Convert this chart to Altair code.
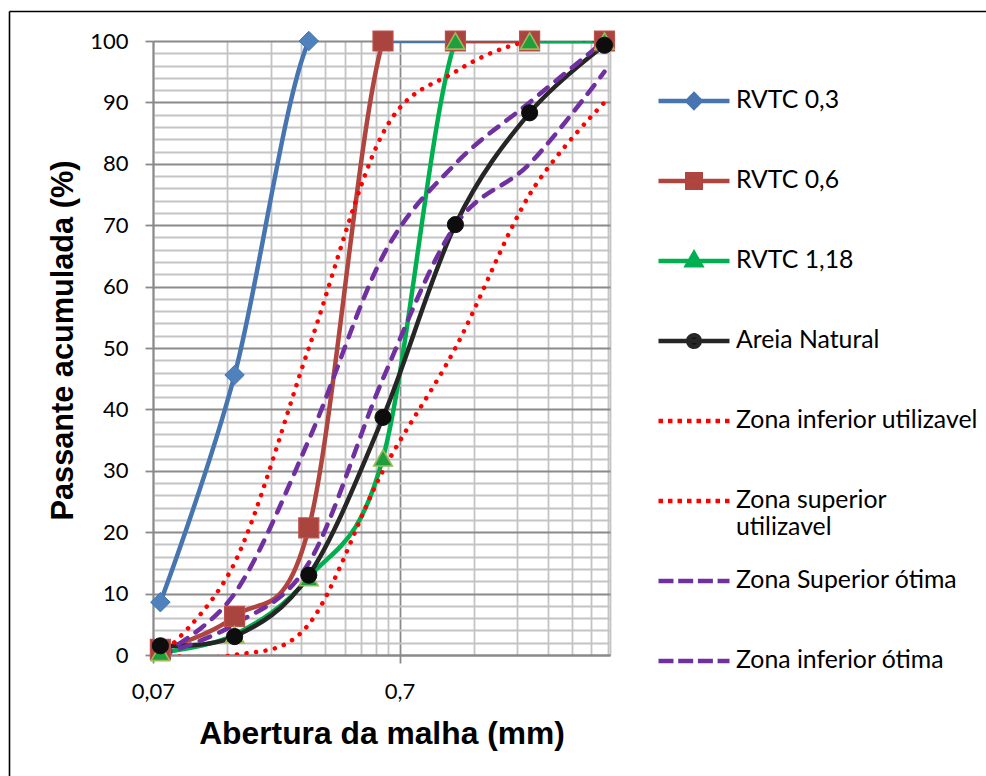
import altair as alt
import pandas as pd

# ---- data ----
sieves = [0.075, 0.15, 0.3, 0.6, 1.18, 2.36, 4.75]
rvtc_03 = [8.6, 45.6, 100, 100, 100, 100, 100]
rvtc_06 = [0.9, 6.3, 20.7, 100, 100, 100, 100]
rvtc_118 = [0.4, 3.3, 12.6, 32.1, 100, 100, 100]
areia = [1.5, 3.0, 13.0, 38.7, 70.1, 88.3, 99.3]
zona_inf_util = [0, 15, 50, 85, 95, 100, 100]
zona_sup_util = [0, 0, 5, 30, 50, 75, 90]
zona_sup_otima = [0, 10, 35, 65, 80, 90, 100]
zona_inf_otima = [0, 5, 15, 45, 70, 80, 95]

names = ["RVTC 0,3", "RVTC 0,6", "RVTC 1,18", "Areia Natural",
         "Zona inferior utilizavel", "Zona superior utilizavel",
         "Zona Superior ótima", "Zona inferior ótima"]
series_values = [rvtc_03, rvtc_06, rvtc_118, areia,
                 zona_inf_util, zona_sup_util, zona_sup_otima, zona_inf_otima]

x_ticks = [0.07, 0.14, 0.21, 0.28, 0.35, 0.42, 0.49, 0.56, 0.63, 0.7,
           1.4, 2.1, 2.8, 3.5, 4.2, 4.9, 5.0]
y_ticks = list(range(0, 101, 2))

rows = []
for n, vals in zip(names, series_values):
    for s, v in zip(sieves, vals):
        rows.append({"series": n, "abertura": s, "passante": v})
df = pd.DataFrame(rows)

# ---- styles ----
BLUE, RED, GREEN, BLACK = "#4675B0", "#B0443F", "#00B050", "#262626"
DOT_RED, PURPLE = "#FF0000", "#7030A0"
GRID_MAJOR, GRID_MINOR = "#8A8A8A", "#C4C4C4"

line_styles = {
    "RVTC 0,3": dict(color=BLUE, strokeWidth=4.5, strokeCap="round"),
    "RVTC 0,6": dict(color=RED, strokeWidth=4.5, strokeCap="round"),
    "RVTC 1,18": dict(color=GREEN, strokeWidth=4.5, strokeCap="round"),
    "Areia Natural": dict(color=BLACK, strokeWidth=4.5, strokeCap="round"),
    "Zona inferior utilizavel": dict(color=DOT_RED, strokeWidth=4.5, strokeCap="round", strokeDash=[0.1, 9.5]),
    "Zona superior utilizavel": dict(color=DOT_RED, strokeWidth=4.5, strokeCap="round", strokeDash=[0.1, 9.5]),
    "Zona Superior ótima": dict(color=PURPLE, strokeWidth=4.5, strokeCap="round", strokeDash=[11, 10]),
    "Zona inferior ótima": dict(color=PURPLE, strokeWidth=4.5, strokeCap="round", strokeDash=[11, 10]),
}
marker_styles = {
    "RVTC 0,3": dict(shape="diamond", size=380, fill="#4F81BD", stroke=BLUE, strokeWidth=1),
    "RVTC 0,6": dict(shape="square", size=400, fill="#A9443F", stroke="#C0504D", strokeWidth=1.2),
    "RVTC 1,18": dict(shape="triangle-up", size=350, fill="#1F9E3E", stroke="#9BBB59", strokeWidth=1.6),
    "Areia Natural": dict(shape="circle", size=260, fill="#0D0D0D", stroke="#0D0D0D", strokeWidth=1),
}

# legend symbols: line + marker, in [-1, 1] units (1 unit = 35.5 px);
# the trailing lone move-to only fixes the height of each legend row
EXT = "M0,0.927"
legend_paths = [
    "M-1,0H1M0,-0.183L0.183,0L0,0.183L-0.183,0Z" + EXT,
    "M-1,0H1M-0.19,-0.19H0.19V0.19H-0.19Z" + EXT,
    "M-1,0H1M0,-0.21L0.19,0.12L-0.19,0.12Z" + EXT,
    "M-1,0H1M-0.162,0A0.162,0.162,0,1,0,0.162,0A0.162,0.162,0,1,0,-0.162,0Z" + EXT,
    "M-1,0H1" + EXT, "M-1,0H1" + EXT, "M-1,0H1" + EXT, "M-1,0H1" + EXT,
]
legend_strokes = [BLUE, RED, GREEN, BLACK, DOT_RED, DOT_RED, PURPLE, PURPLE]
legend_fills = ["#4F81BD", "#A9443F", "#1F9E3E", "#0D0D0D",
                "transparent", "transparent", "transparent", "transparent"]
legend_dashes = [[1, 0], [1, 0], [1, 0], [1, 0], [4.5, 5], [4.5, 5], [15, 4.7], [15, 4.7]]

# ---- axes / scales ----
x_major = "datum.value == 0.07 || datum.value == 0.7"
y_major = "datum.value % 10 == 0"

x_enc = alt.X(
    "abertura:Q",
    scale=alt.Scale(type="log", domain=[0.07, 5], nice=False),
    axis=alt.Axis(
        orient="bottom", values=x_ticks,
        labelExpr="datum.value == 0.07 ? '0,07' : (datum.value == 0.7 ? '0,7' : '')",
        labelFont="Lato", labelFontSize=22, labelColor="black",
        labelPadding=18, labelFlush=False, labelOverlap=False,
        tickSize=8, tickWidth=1.8, tickColor=GRID_MAJOR,
        tickOpacity={"condition": {"test": x_major, "value": 1}, "value": 0},
        grid=True, gridWidth=1.8,
        gridColor={"condition": {"test": x_major, "value": GRID_MAJOR}, "value": GRID_MINOR},
        domainColor=GRID_MAJOR, domainWidth=1.8,
        title="Abertura da malha (mm)", titleFont="Liberation Sans", titleFontWeight="bold",
        titleFontSize=31.8, titleColor="black", titleBaseline="alphabetic", titleY=88,
    ),
)
y_enc = alt.Y(
    "passante:Q",
    scale=alt.Scale(domain=[0, 100], nice=False),
    axis=alt.Axis(
        orient="left", values=y_ticks,
        labelExpr="datum.value % 10 == 0 ? datum.label : ''",
        labelFont="Lato", labelFontSize=22, labelColor="black",
        labelPadding=17, labelFlush=False, labelOverlap=False,
        tickSize=8, tickWidth=1.8, tickColor=GRID_MAJOR,
        tickOpacity={"condition": {"test": y_major, "value": 1}, "value": 0},
        grid=True, gridWidth=1.8,
        gridColor={"condition": {"test": y_major, "value": GRID_MAJOR}, "value": GRID_MINOR},
        domainColor=GRID_MAJOR, domainWidth=1.8,
        title="Passante acumulada (%)", titleFont="Liberation Sans", titleFontWeight="bold",
        titleFontSize=30.7, titleColor="black", titleBaseline="alphabetic",
        titleAngle=270, titleAlign="center", titleX=-81, titleY=299,
    ),
)

base = alt.Chart(df)

line_layers = [
    base.transform_filter(alt.datum.series == n)
    .mark_line(interpolate="cardinal", clip=True, strokeJoin="round", **line_styles[n])
    .encode(x=x_enc, y=y_enc)
    for n in names
]
point_layers = [
    base.transform_filter(alt.datum.series == n)
    .mark_point(filled=True, opacity=1, **marker_styles[n])
    .encode(x=x_enc, y=y_enc)
    for n in names[:4]
]
plot = alt.layer(*line_layers, *point_layers)

# legend + outer frame (top and left border lines)
frame_axis_x = alt.Axis(orient="top", offset=30, domain=True, domainColor="black", domainWidth=1.6,
                        ticks=False, labels=False, grid=False, title=None)
frame_axis_y = alt.Axis(orient="left", offset=144, domain=True, domainColor="black", domainWidth=1.6,
                        ticks=False, labels=False, grid=False, title=None)

legend_layer = base.transform_filter("false").mark_point(filled=True, opacity=1, strokeWidth=4.5).encode(
    x=alt.X("abertura:Q", scale=alt.Scale(domain=[0, 1], range=[-144, 833], nice=False), axis=frame_axis_x),
    y=alt.Y("passante:Q", scale=alt.Scale(domain=[0, 1], range=[735, -30], nice=False), axis=frame_axis_y),
    fill=alt.Fill("series:N", scale=alt.Scale(domain=names, range=legend_fills),
                  legend=alt.Legend(
                      title=None, orient="none", legendX=503, legendY=22, direction="vertical",
                      symbolSize=5041, symbolStrokeWidth=4.5, symbolOpacity=1,
                      labelFont="Lato", labelFontSize=24.8, labelColor="black", labelLimit=400,
                      labelOffset=4, rowPadding=0, padding=0,
                      labelExpr="datum.label == 'Zona superior utilizavel' ? ['Zona superior', 'utilizavel'] : datum.label",
                  )),
    stroke=alt.Stroke("series:N", scale=alt.Scale(domain=names, range=legend_strokes)),
    shape=alt.Shape("series:N", scale=alt.Scale(domain=names, range=legend_paths)),
    strokeDash=alt.StrokeDash("series:N", scale=alt.Scale(domain=names, range=legend_dashes)),
)

chart = (
    alt.layer(plot, legend_layer)
    .resolve_scale(x="independent", y="independent")
    .properties(
        width=457, height=614,
        padding={"left": 153, "top": 41, "right": 376, "bottom": 121},
        autosize=alt.AutoSizeParams(type="none"),
        background="white",
    )
    .configure_view(stroke=None)
)

chart.save("out.html", embed_options={"renderer": "svg", "actions": False})
